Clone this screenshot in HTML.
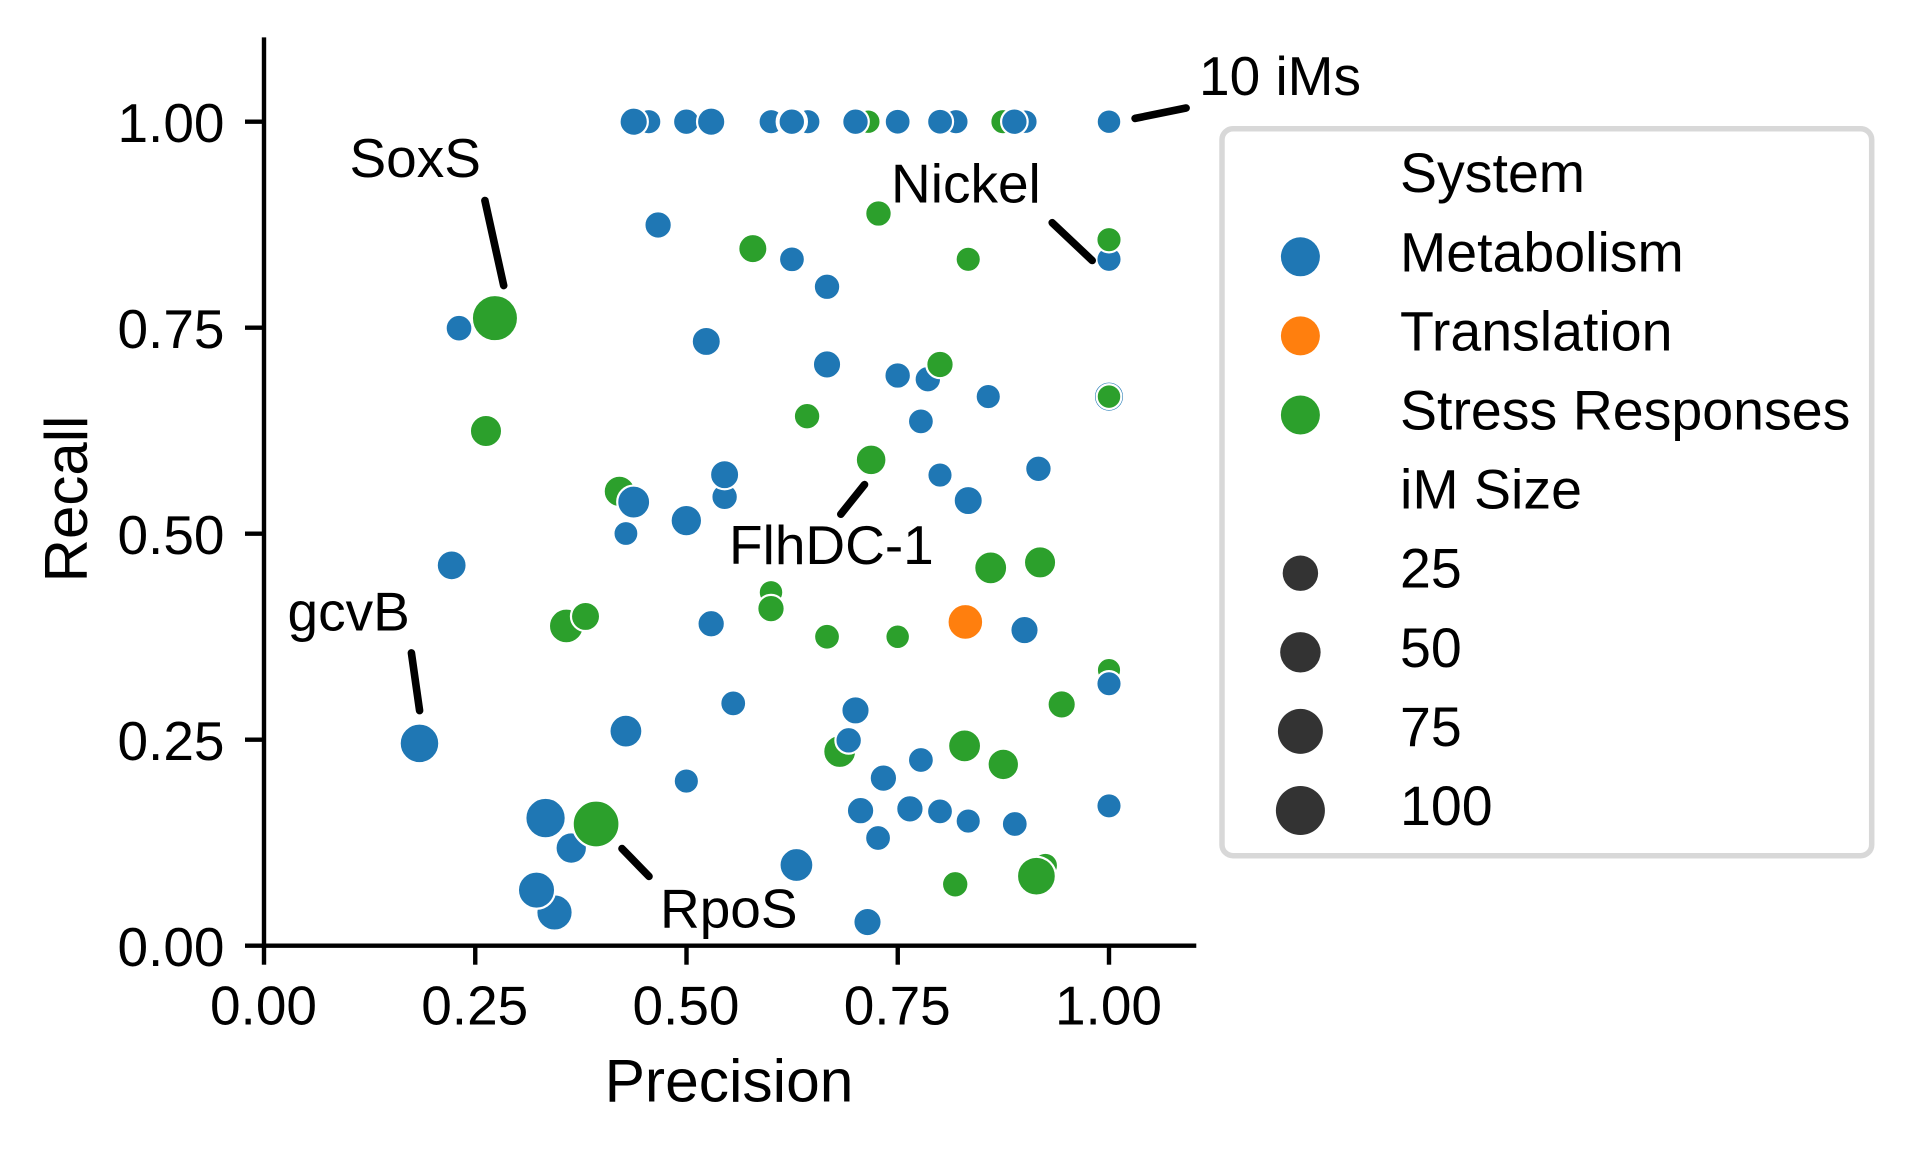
<!DOCTYPE html>
<html lang="en">
<head>
<meta charset="utf-8">
<title>Precision vs Recall of iModulons</title>
<style>
html,body{margin:0;padding:0;background:#fff;width:1912px;height:1153px;overflow:hidden}
svg{display:block}
text{font-family:"Liberation Sans",Arial,sans-serif;fill:#000}
</style>
</head>
<body>
<svg id="chart" xmlns="http://www.w3.org/2000/svg" width="1912" height="1153" viewBox="0 0 1912 1153">
  <rect x="0" y="0" width="1912" height="1153" fill="#fff"/>
  <g id="points"></g>
  <g id="axes"></g>
  <g stroke="#000" stroke-width="7.6" stroke-linecap="round" fill="none">
    <line x1="484.9" y1="200.5" x2="503.7" y2="285.6"/>
    <line x1="1052.2" y1="222.7" x2="1092.2" y2="260.5"/>
    <line x1="1135.1" y1="118.4" x2="1186.1" y2="108"/>
    <line x1="840.8" y1="514.2" x2="864.5" y2="484.6"/>
    <line x1="411.4" y1="652.9" x2="419.6" y2="710.6"/>
    <line x1="622" y1="848.6" x2="649" y2="876.4"/>
  </g>
  <g font-size="55">
    <text x="349.5" y="176.8">SoxS</text>
    <text x="1199" y="95.2">10 iMs</text>
    <text x="891" y="202.7">Nickel</text>
    <text x="729" y="564.2">FlhDC-1</text>
    <text x="287.5" y="630.3">gcvB</text>
    <text x="660" y="927.4">RpoS</text>
  </g>
  <text x="729" y="1101.3" font-size="60.5" text-anchor="middle">Precision</text>
  <text transform="translate(87 499) rotate(-90)" font-size="60" text-anchor="middle">Recall</text>
  <g id="legend">
    <rect x="1222" y="128.7" width="649.7" height="727" rx="11" ry="11" fill="#fff" stroke="#d8d8d8" stroke-width="5.5"/>
  </g>
</svg>
<script>
// Chart data, in drawing order (later points sit on top)
const systems = [
  'M','M','M','M','M','M','M','M','S','M','M','M','M','S','M','M','M',
  'M','S','S','M','S','M','S','M','M','M','M','M','S','M','M','S','S','M','S','M','M','M','M','M','M','S','S',
  'M','S','S','S','M','M','M','S','S','M','M','M','M','S','M','M',
  'S','S','M','S','S','T','M','S','M','S','M','M','S','M','M','S','S','M','M','M','M','M','M','M','M','M','M','S','S','S','M'];
const precisionValues = [
  .4553,.4375,.4998,.5292,.6002,.6436,.6246,.6246,.7151,.7,.7499,.8189,.8001,.8745,.9010,.8880,1,
  .4664,.7272,.5785,.6248,.8334,1,1,.6663,.5234,.6663,.7499,.7856,.8,.8571,1,1,.6427,.7774,.7185,.8,.9165,.5451,.5451,.8334,.4998,.8600,.9184,
  .2308,.2733,.2627,.4206,.4375,.4283,.2221,.3578,.3805,.1840,.4283,.3332,.3636,.3930,.3438,.3225,
  .6,.6,.5292,.6663,.7499,.8300,.9,1,1,.9440,.5553,.7,.6813,.6919,.4998,.8291,.8749,.7774,.7330,.7060,.7644,.8,.8334,.8885,1,.7267,.6301,.8180,.9247,.9141,.7142];
const recallValues = [
  1,1,1,1,1,1,1,1,1,1,1,1,1,1,1,1,1,
  .8747,.8886,.8460,.8330,.8330,.8330,.8568,.7997,.7333,.7054,.6920,.6875,.7054,.6664,.6664,.6664,.6426,.6363,.5896,.5712,.5788,.5447,.5716,.5402,.5159,.4585,.4652,
  .7494,.7616,.6246,.5514,.5384,.5002,.4616,.3880,.3996,.2456,.2604,.1549,.1185,.1477,.0404,.0674,
  .4288,.4091,.3907,.3749,.3749,.3929,.3830,.3345,.3179,.2928,.2941,.2856,.2357,.2492,.1998,.2425,.2200,.2254,.2034,.1639,.1661,.1630,.1513,.1477,.1697,.1307,.0979,.0745,.0974,.0844,.0287];
const imSizes = [
  5,15,9,15,5,5,22,9,3,9,7,5,7,5,3,9,3,
  12,9,18,7,5,5,5,9,18,15,9,9,12,5,22,3,9,7,24,5,9,9,18,18,27,33,30,
  10,100,30,27,33,4,21,41,18,64,33,68,27,104,48,52,
  3,12,12,7,3,45,15,2,5,15,7,15,33,9,5,33,27,7,12,12,12,7,5,7,5,7,37,9,5,60,15];
const systemColors = {M:'#1f77b4',T:'#ff7f0e',S:'#2ca02c'};
const xTickValues = [0,0.25,0.5,0.75,1];
const yTickValues = [0,0.25,0.5,0.75,1];
const tickLabels = ['0.00','0.25','0.50','0.75','1.00'];
const legendSystems = ['Metabolism','Translation','Stress Responses'];
const legendSystemKeys = ['M','T','S'];
const legendSizes = [25,50,75,100];

const NS = 'http://www.w3.org/2000/svg';
const xScale = v => 264 + v * 845;
const yScale = v => 945.7 - v * 824;
const xMax = 1.1033;
const yMax = 1.1024;
const pointRadius = s => Math.sqrt(115 + 3.69 * s) + 1.1;
const legendRadius = s => Math.sqrt(218 + 3.83 * s);

function mk(tag, attrs, parent) {
  const el = document.createElementNS(NS, tag);
  for (const k in attrs) el.setAttribute(k, attrs[k]);
  parent.appendChild(el);
  return el;
}

const pointsG = document.getElementById('points');
precisionValues.forEach((p, i) => {
  const c = mk('circle', {cx: xScale(p), cy: yScale(recallValues[i]), r: pointRadius(imSizes[i]), fill: systemColors[systems[i]], stroke: '#fff', 'stroke-width': 2.2}, pointsG);
  
  
});

const axesG = document.getElementById('axes');
const style = {stroke: '#000', 'stroke-width': 4.4};
const xAxis = mk('line', {x1: xScale(0) - 2.2, y1: yScale(0), x2: xScale(xMax), y2: yScale(0), ...style}, axesG);


const yAxis = mk('line', {x1: xScale(0), y1: yScale(0) + 2.2, x2: xScale(0), y2: yScale(yMax), ...style}, axesG);



xTickValues.forEach((v, i) => {
  const t = mk('line', {x1: xScale(v), y1: yScale(0), x2: xScale(v), y2: yScale(0) + 19, ...style}, axesG);
  
  
  const l = mk('text', {x: xScale(v) - 0.5, y: 1024.3, 'font-size': 55, 'text-anchor': 'middle'}, axesG);
  
  
  l.textContent = tickLabels[i];
});
yTickValues.forEach((v, i) => {
  const t = mk('line', {x1: xScale(0) - 19, y1: yScale(v), x2: xScale(0), y2: yScale(v), ...style}, axesG);
  
  
  const l = mk('text', {x: 224.5, y: yScale(v) + 20.5, 'font-size': 55, 'text-anchor': 'end'}, axesG);
  
  
  l.textContent = tickLabels[i];
});

// Legend rows
const legendG = document.getElementById('legend');
const rowY = k => 192.2 + k * 79.1;
const markerX = 1300.4;
const textX = 1400;
function legendText(str, k, name) {
  const t = mk('text', {x: textX, y: rowY(k), 'font-size': 55.5}, legendG);
  
  
  t.textContent = str;
}
legendText('System', 0, 'legend-system-title');
legendSystems.forEach((s, i) => {
  const m = mk('circle', {cx: markerX, cy: rowY(i + 1) - 14.5, r: 19.5, fill: systemColors[legendSystemKeys[i]]}, legendG);
  
  
  legendText(s, i + 1, 'legend-system-label');
});
legendText('iM Size', 4, 'legend-size-title');
legendSizes.forEach((s, i) => {
  const m = mk('circle', {cx: markerX, cy: rowY(i + 5) - 14.5, r: legendRadius(s), fill: '#333333'}, legendG);
  
  
  legendText(String(s), i + 5, 'legend-size-label');
});
</script>
</body>
</html>
